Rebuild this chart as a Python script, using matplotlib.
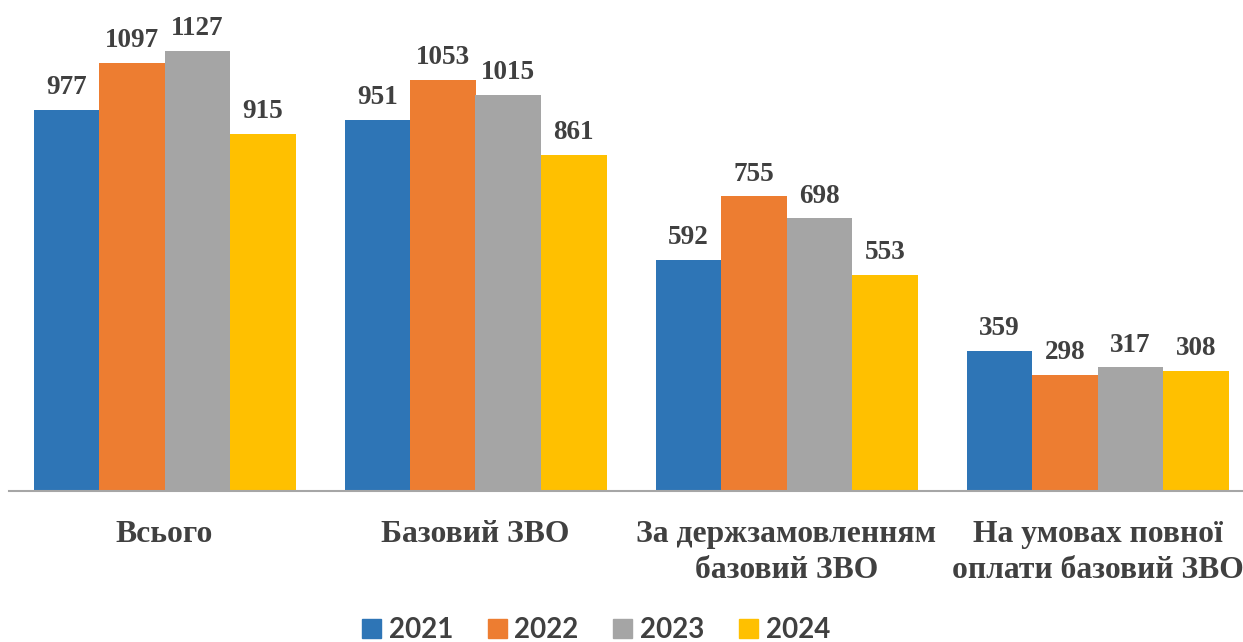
import matplotlib
matplotlib.use("Agg")
import matplotlib.pyplot as plt
import numpy as np

categories = ["Всього", "Базовий ЗВО", "За держзамовленням\nбазовий ЗВО", "На умовах повної\nоплати базовий ЗВО"]
series_names = ["2021", "2022", "2023", "2024"]
values_2021 = [977, 951, 592, 359]
values_2022 = [1097, 1053, 755, 298]
values_2023 = [1127, 1015, 698, 317]
values_2024 = [915, 861, 553, 308]
series_values = [values_2021, values_2022, values_2023, values_2024]
colors = ["#2E75B6", "#ED7D31", "#A5A5A5", "#FFC000"]

W, H = 1243, 642
fig = plt.figure(figsize=(W / 100, H / 100), dpi=100)
ax = fig.add_axes([9 / W, (H - 491) / H, 1244 / W, 491 / H])

x = np.arange(len(categories))
bw = 65.5 / 311
for i, (name, vals, c) in enumerate(zip(series_names, series_values, colors)):
    bars = ax.bar(x + (i - 1.5) * bw, vals, bw, color=c, label=name, zorder=2)
    ax.bar_label(bars, labels=[str(v) for v in vals], padding=7,
                 fontsize=19.5, fontweight="bold", family="Liberation Serif", color="#404040")

ax.set_xlim(-0.5, 3.5)
ax.set_ylim(0, 491 / (440 / 1127))
for s in ["top", "right", "left"]:
    ax.spines[s].set_visible(False)
ax.spines["bottom"].set_color("#A6A6A6")
ax.spines["bottom"].set_linewidth(1.5)
ax.spines["bottom"].set_zorder(3)
ax.set_yticks([])
ax.set_xticks(x)
ax.set_xticklabels(categories, fontsize=22.8, fontweight="bold", family="Liberation Serif",
                   color="#404040", linespacing=1.3)
ax.tick_params(axis="x", length=0, pad=21)

handles = [plt.Rectangle((0, 0), 1, 1, color=c) for c in colors]
leg = fig.legend(handles, series_names, loc="center", ncol=4,
                 bbox_to_anchor=(596 / W, 1 - 630 / H), frameon=False,
                 prop={"family": "Lato", "weight": "bold", "size": 20},
                 handlelength=0.68, handleheight=0.68, handletextpad=0.28, columnspacing=1.25)
for t in leg.get_texts():
    t.set_color("#404040")

fig.savefig("out.png", dpi=100)
